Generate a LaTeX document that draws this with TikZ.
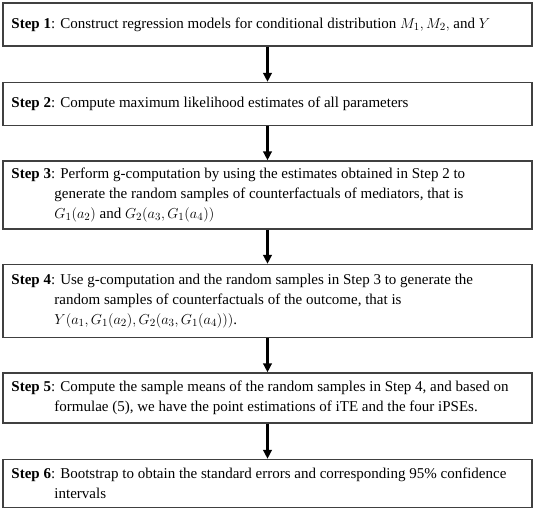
\documentclass[tikz,border=0pt]{standalone}
\usepackage{fontspec}
\setmainfont{Liberation Serif}
\usetikzlibrary{arrows.meta}
\newcommand\stepbody[2]{\begin{minipage}{512pt}\fontsize{15}{20}\selectfont\raggedright\hangindent=43pt\hangafter=1\noindent\textbf{Step #1}: #2\par\end{minipage}}
\tikzset{
  stepbox/.style={draw=black!75, line width=1.3pt, rectangle, minimum width=529pt, inner xsep=8.5pt, inner ysep=2pt, fill=white},
  flowarrow/.style={line width=2.4pt, -{Triangle[length=9pt,width=8.5pt]}}
}
\begin{document}
\begin{tikzpicture}[x=1pt,y=1pt]
\useasboundingbox[fill=white] (0,0) rectangle (536,-510);
\node[stepbox, minimum height=43pt] (b1) at (267.5,-24.5) {\stepbody{1}{Construct regression models for conditional distribution $M_1, M_2,$ and $Y$}};
\node[stepbox, minimum height=43pt] (b2) at (267.5,-104) {\stepbody{2}{Compute maximum likelihood estimates of all parameters}};
\node[stepbox, minimum height=68pt] (b3) at (267.5,-195) {\stepbody{3}{Perform g-computation by using the estimates obtained in Step 2 to\newline generate the random samples of counterfactuals of mediators, that is\newline $G_1(a_2)$ and $G_2\big(a_3, G_1(a_4)\big)$}};
\node[stepbox, minimum height=73pt] (b4) at (267.5,-301) {\stepbody{4}{Use g-computation and the random samples in Step 3 to generate the\newline random samples of counterfactuals of the outcome, that is\newline $Y(a_1, G_1(a_2), G_2(a_3, G_1(a_4)))$.}};
\node[stepbox, minimum height=50pt] (b5) at (267.5,-398) {\stepbody{5}{Compute the sample means of the random samples in Step 4, and based on\newline formulae (5), we have the point estimations of iTE and the four iPSEs.}};
\node[stepbox, minimum height=48pt] (b6) at (267.5,-483.5) {\stepbody{6}{Bootstrap to obtain the standard errors and corresponding 95\% confidence\newline intervals}};
\draw[flowarrow] (b1.south) -- (b2.north);
\draw[flowarrow] (b2.south) -- (b3.north);
\draw[flowarrow] (b3.south) -- (b4.north);
\draw[flowarrow] (b4.south) -- (b5.north);
\draw[flowarrow] (b5.south) -- (b6.north);
\end{tikzpicture}
\end{document}
